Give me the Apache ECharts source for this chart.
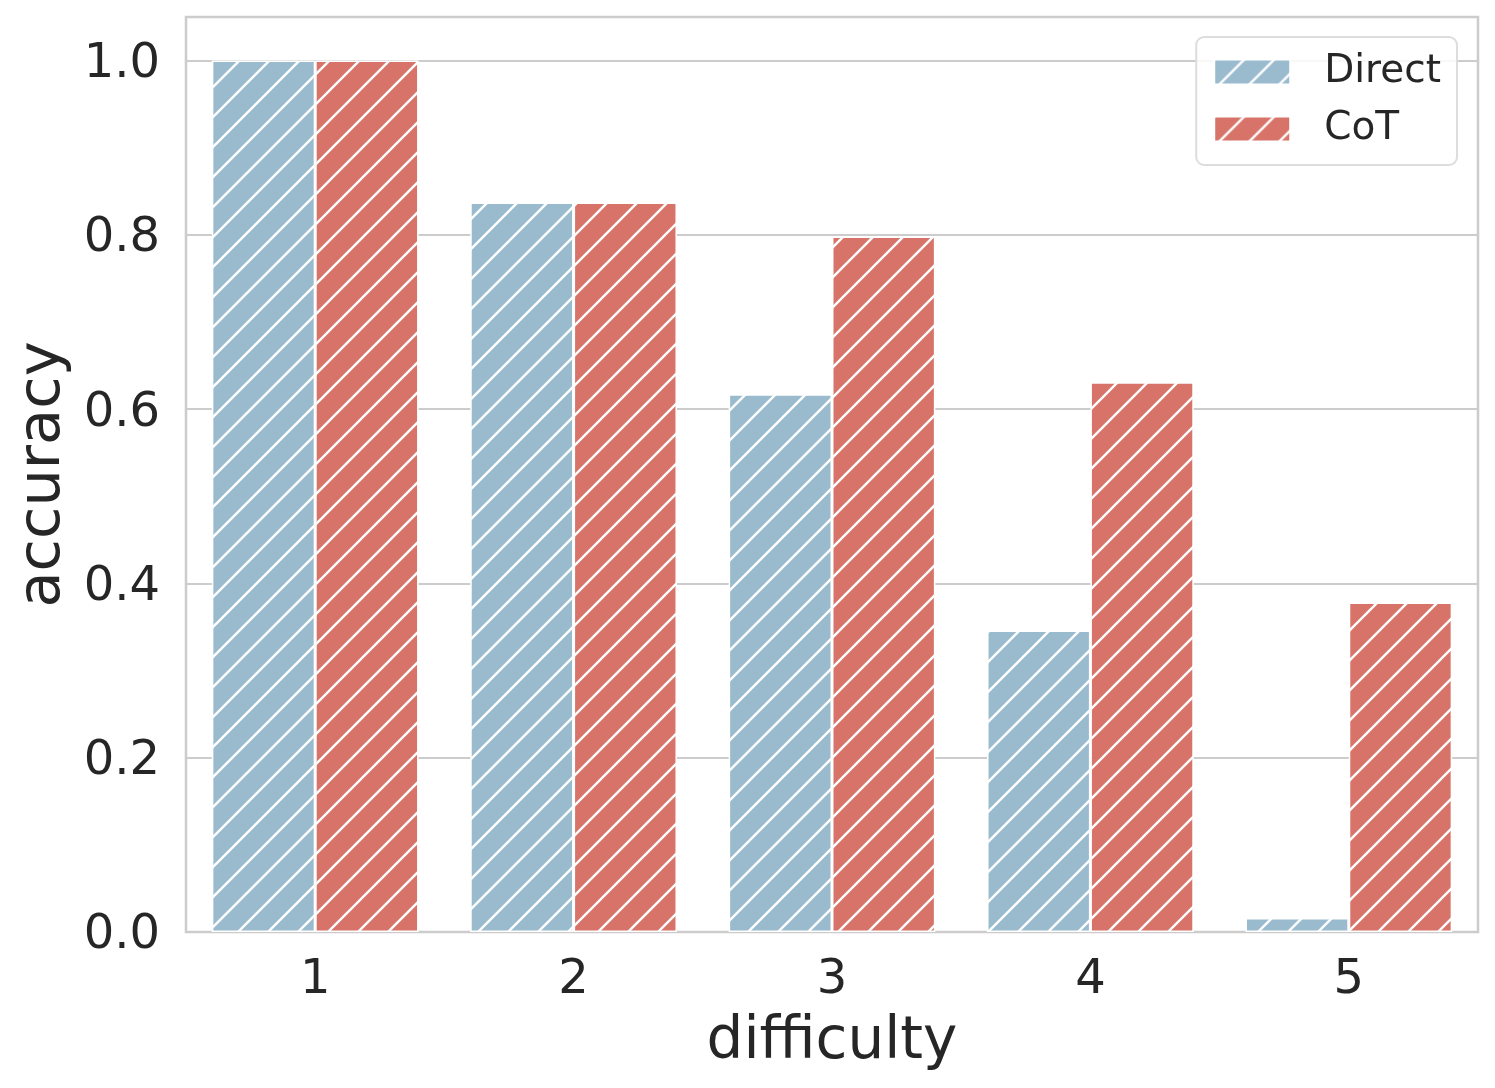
<!DOCTYPE html>
<html>
<head>
<meta charset="utf-8">
<script src="https://cdn.jsdelivr.net/npm/echarts@6/dist/echarts.min.js"></script>
<style>
html,body{margin:0;padding:0;background:#fff;}
#chart{width:1495px;height:1088px;}
</style>
</head>
<body>
<div id="chart"></div>
<script>
const categories = ['1', '2', '3', '4', '5'];
const directValues = [1.0, 0.837, 0.617, 0.346, 0.016];
const cotValues = [1.0, 0.837, 0.798, 0.631, 0.378];
const seriesNames = ['Direct', 'CoT'];
const yTicks = [0, 0.2, 0.4, 0.6, 0.8, 1.0];

function hatch(bg) {
  const s = 30;
  const c = document.createElement('canvas');
  c.width = s; c.height = s;
  const g = c.getContext('2d');
  g.fillStyle = bg;
  g.fillRect(0, 0, s, s);
  g.strokeStyle = '#ffffff';
  g.lineWidth = 2.4;
  g.lineCap = 'square';
  g.beginPath();
  g.moveTo(0, s); g.lineTo(s, 0);
  g.moveTo(-5, 5); g.lineTo(5, -5);
  g.moveTo(s - 5, s + 5); g.lineTo(s + 5, s - 5);
  g.stroke();
  return { image: c, repeat: 'repeat' };
}

const blue = '#9abbce';
const red = '#d77368';
const font = 'DejaVu Sans';
const txt = '#262626';

const chart = echarts.init(document.getElementById('chart'), null, { renderer: 'canvas' });
chart.setOption({
  backgroundColor: '#ffffff',
  animation: false,
  textStyle: { fontFamily: font, color: txt },
  grid: {
    left: 186, right: 17, top: 17, bottom: 156,
    show: true, borderColor: '#cccccc', borderWidth: 2.5, backgroundColor: 'transparent'
  },
  legend: {
    orient: 'vertical',
    right: 38, top: 37,
    padding: [15, 16, 16, 17],
    itemWidth: 76, itemHeight: 25, itemGap: 17,
    icon: 'rect',
    backgroundColor: 'rgba(255,255,255,0.85)',
    borderColor: '#dddddd', borderWidth: 2, borderRadius: 8,
    textStyle: { fontFamily: font, fontSize: 39, lineHeight: 40, color: txt, padding: [0, 0, 0, 29] },
    data: seriesNames
  },
  xAxis: {
    type: 'category',
    data: categories,
    name: 'difficulty',
    nameLocation: 'middle',
    nameGap: 82,
    nameTextStyle: { fontFamily: font, fontSize: 58, color: txt },
    axisLine: { show: false },
    axisTick: { show: false },
    axisLabel: { fontFamily: font, fontSize: 48, color: txt, margin: 25 },
    splitLine: { show: false }
  },
  yAxis: {
    type: 'value',
    min: 0, max: 1.05, interval: 0.2,
    name: 'accuracy',
    nameLocation: 'middle',
    nameGap: 112,
    nameTextStyle: { fontFamily: font, fontSize: 59, color: txt },
    axisLine: { show: false },
    axisTick: { show: false },
    axisLabel: {
      fontFamily: font, fontSize: 48, color: txt, margin: 26,
      formatter: function (v) {
        for (const t of yTicks) { if (Math.abs(v - t) < 1e-6) return '{v|' + t.toFixed(1) + '}'; }
        return '';
      },
      rich: {
        v: { fontFamily: font, fontSize: 48, color: txt, padding: [8, 0, 0, 0] }
      }
    },
    splitLine: { show: true, lineStyle: { color: '#cccccc', width: 2 } }
  },
  series: [
    {
      name: seriesNames[0], type: 'bar', data: directValues,
      barGap: '0%', barCategoryGap: '20%',
      itemStyle: { color: hatch(blue), borderColor: '#ffffff', borderWidth: 1.5 }
    },
    {
      name: seriesNames[1], type: 'bar', data: cotValues,
      barGap: '0%', barCategoryGap: '20%',
      itemStyle: { color: hatch(red), borderColor: '#ffffff', borderWidth: 1.5 }
    }
  ]
});
</script>
</body>
</html>
